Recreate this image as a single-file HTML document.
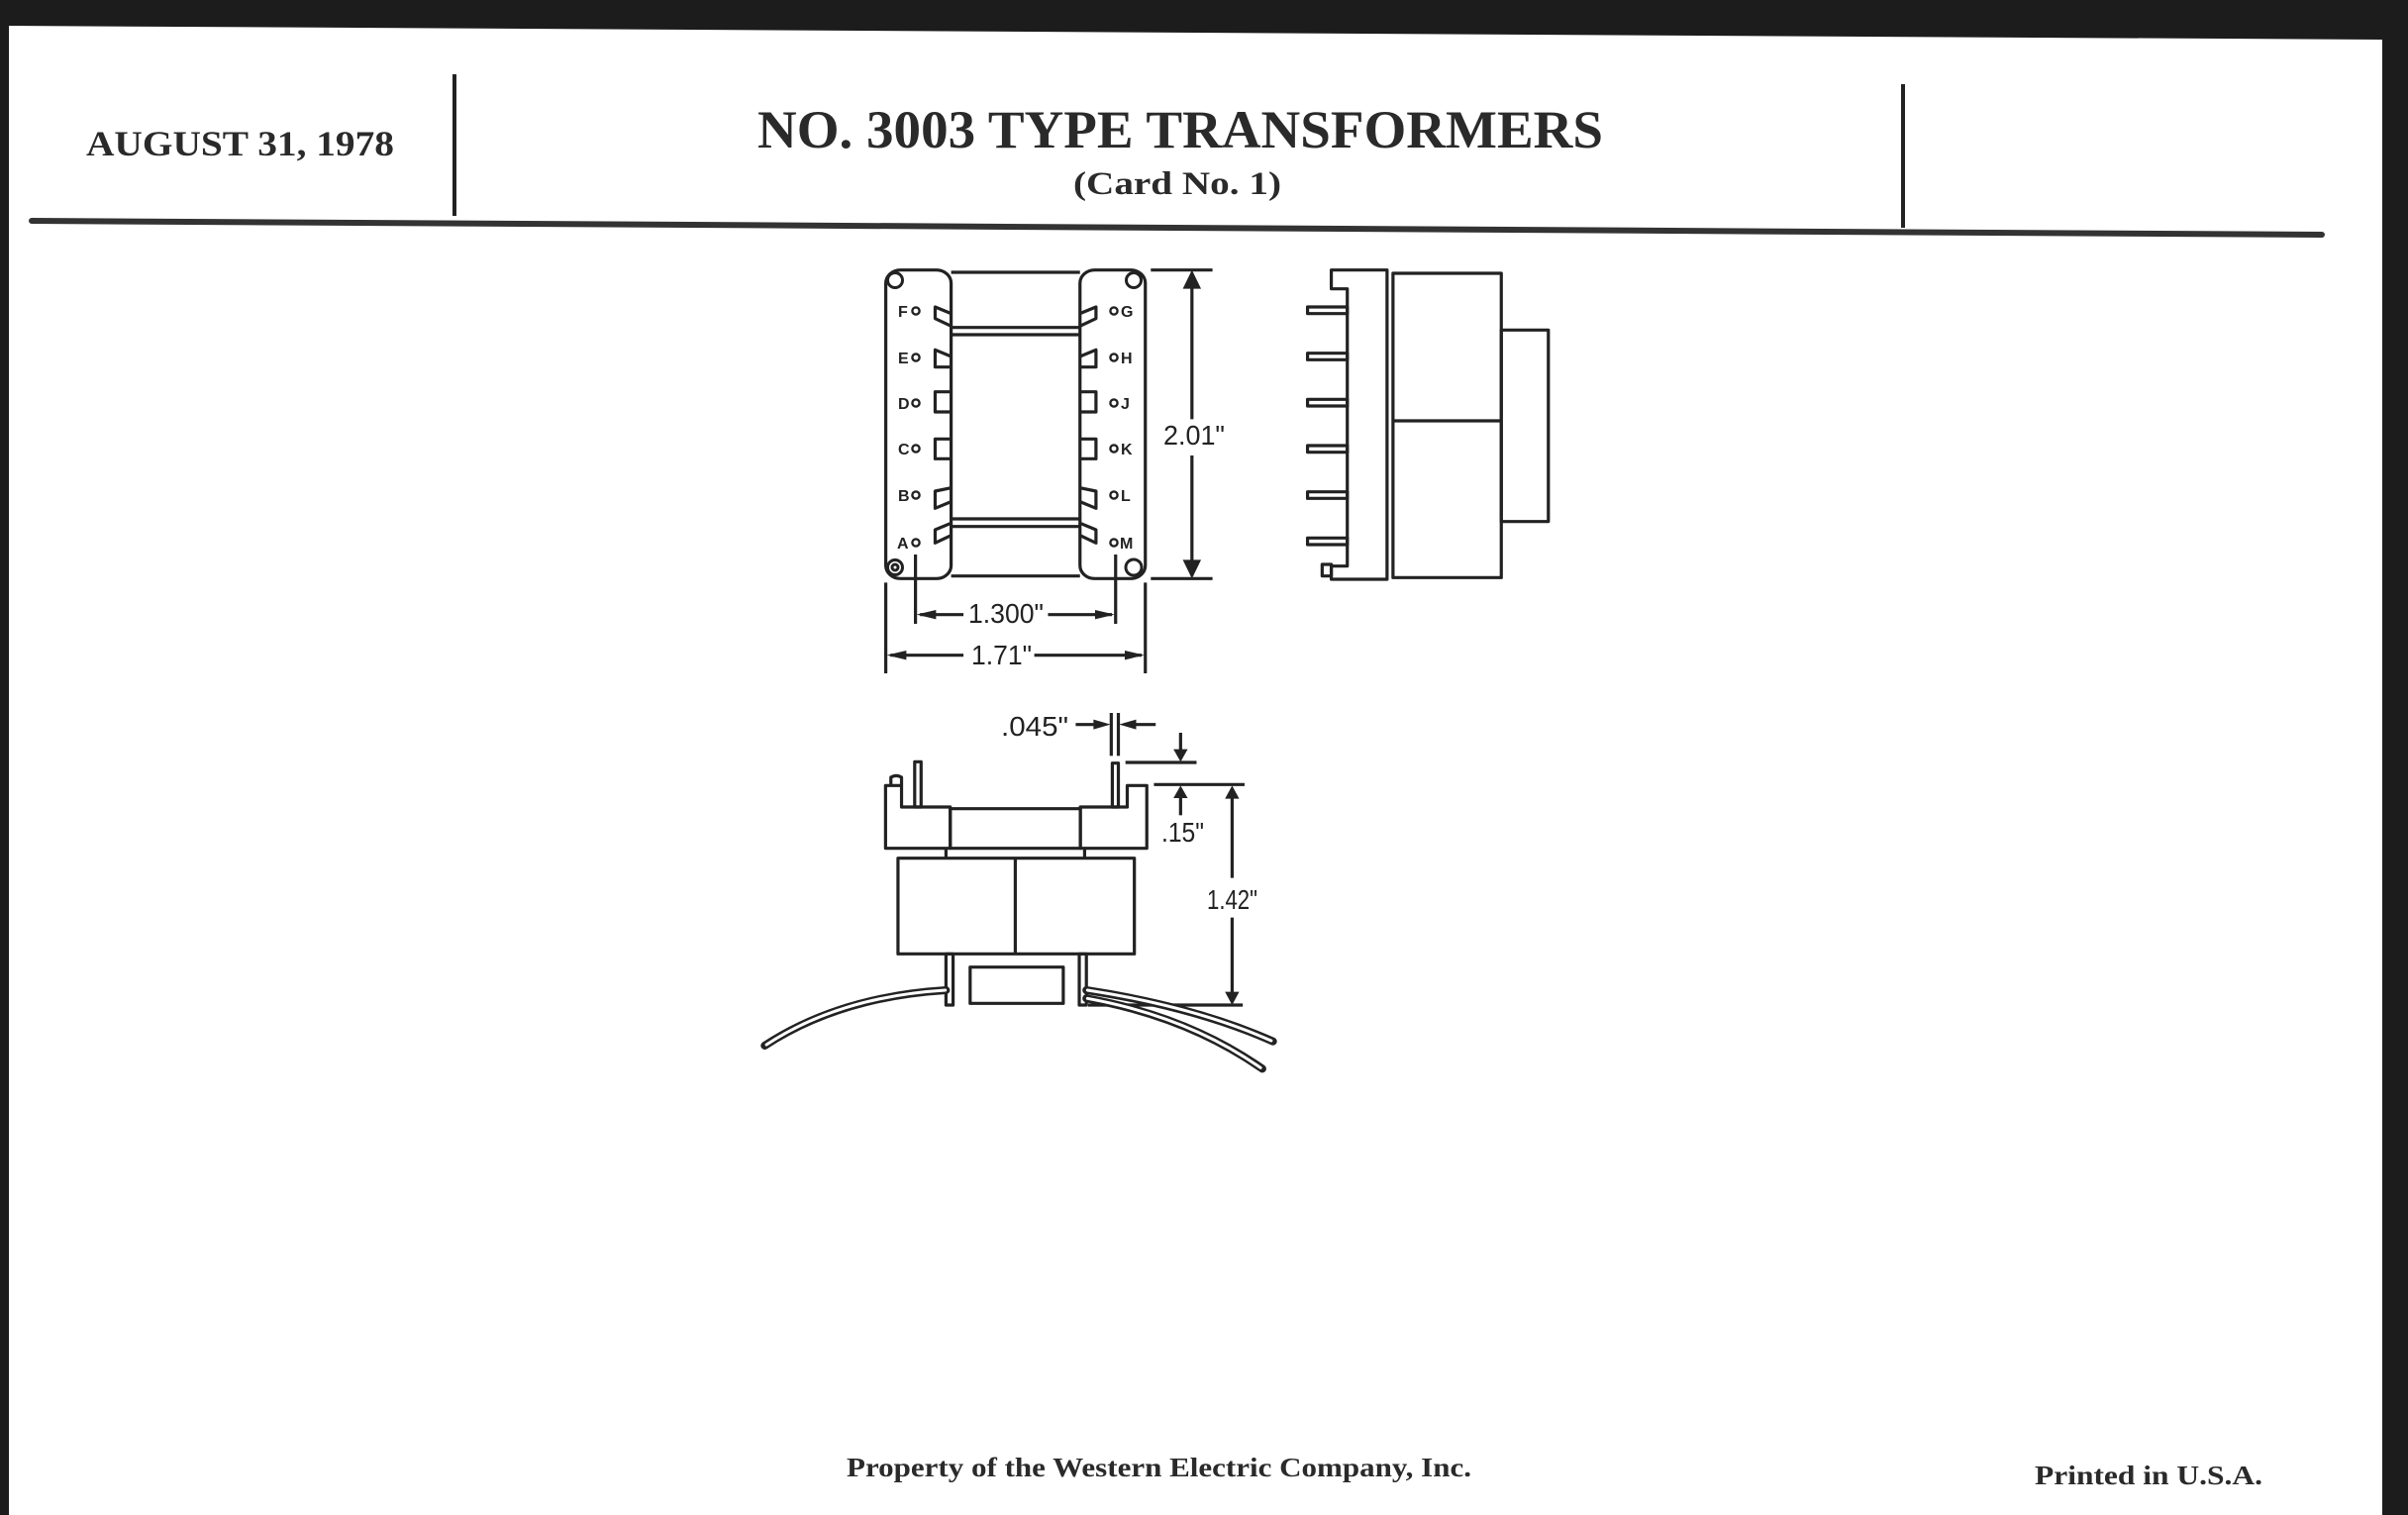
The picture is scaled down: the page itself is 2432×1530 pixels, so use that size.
<!DOCTYPE html>
<html><head><meta charset="utf-8"><style>
html,body{margin:0;padding:0;background:#fff;}
svg{display:block;}
.g *{vector-effect:non-scaling-stroke;}
</style></head><body>
<svg width="2432" height="1530" viewBox="0 0 2432 1530" xmlns="http://www.w3.org/2000/svg">
<rect x="0" y="0" width="2432" height="1530" fill="#fff"/>
<polygon points="0,0 2432,0 2432,1530 2406,1530 2406,40 9,26 9,1530 0,1530" fill="#1c1c1c"/>
<g font-family="Liberation Serif, serif" font-weight="bold" fill="#2a2a2a">
<text x="87" y="157" font-size="36" textLength="311" lengthAdjust="spacingAndGlyphs">AUGUST 31, 1978</text>
<text x="765" y="149" font-size="54" textLength="854" lengthAdjust="spacingAndGlyphs">NO. 3003 TYPE TRANSFORMERS</text>
<text x="1084" y="196" font-size="33" textLength="210" lengthAdjust="spacingAndGlyphs">(Card No. 1)</text>
<text x="855" y="1491" font-size="27" textLength="631" lengthAdjust="spacingAndGlyphs">Property of the Western Electric Company, Inc.</text>
<text x="2055" y="1499" font-size="27" textLength="230" lengthAdjust="spacingAndGlyphs">Printed in U.S.A.</text>
</g>
<line x1="459" y1="75" x2="459" y2="218" stroke="#222" stroke-width="4"/>
<line x1="1922" y1="85" x2="1922" y2="230" stroke="#222" stroke-width="4"/>
<line x1="32" y1="223" x2="2345" y2="237" stroke="#333" stroke-width="6" stroke-linecap="round"/>

<g class="g" transform="translate(860,250) scale(0.4615,0.33333)" fill="none" stroke="#222" stroke-width="3.2" stroke-linejoin="round">
  <rect x="75" y="68" width="143" height="935" rx="32" ry="40"/>
  <rect x="500" y="68" width="143" height="935" rx="32" ry="40"/>
  <line x1="218" y1="75" x2="500" y2="75"/>
  <line x1="218" y1="995" x2="500" y2="995"/>
  <line x1="218" y1="242" x2="500" y2="242"/>
  <line x1="218" y1="264" x2="500" y2="264"/>
  <line x1="218" y1="822" x2="500" y2="822"/>
  <line x1="218" y1="845" x2="500" y2="845"/>
  <path d="M218,200 L183,180 L183,215 L218,238"/>
  <path d="M218,330 L183,310 L183,362 L218,362"/>
  <path d="M218,437 H183 V498 H218"/>
  <path d="M218,580 H183 V640 H218"/>
  <path d="M218,728 L183,738 L183,790 L218,770"/>
  <path d="M218,835 L183,855 L183,895 L218,872"/>
  <path d="M500,200 L535,180 L535,215 L500,238"/>
  <path d="M500,330 L535,310 L535,362 L500,362"/>
  <path d="M500,437 H535 V498 H500"/>
  <path d="M500,580 H535 V640 H500"/>
  <path d="M500,728 L535,738 L535,790 L500,770"/>
  <path d="M500,835 L535,855 L535,895 L500,872"/>
  <line x1="655" y1="68" x2="790" y2="68"/>
  <line x1="655" y1="1003" x2="790" y2="1003"/>
  <line x1="745" y1="80" x2="745" y2="520"/>
  <line x1="745" y1="630" x2="745" y2="995"/>
  <line x1="140" y1="930" x2="140" y2="1140"/>
  <line x1="578" y1="930" x2="578" y2="1140"/>
  <line x1="150" y1="1112" x2="245" y2="1112"/>
  <line x1="430" y1="1112" x2="570" y2="1112"/>
  <line x1="75" y1="1015" x2="75" y2="1290"/>
  <line x1="643" y1="1015" x2="643" y2="1290"/>
  <line x1="85" y1="1235" x2="245" y2="1235"/>
  <line x1="400" y1="1235" x2="635" y2="1235"/>
  <path d="M1050,68 H1172 V1005 H1050 V965 H1085 V125 H1050 Z"/>
  <rect x="1030" y="960" width="20" height="35"/>
  <rect x="998" y="180" width="87" height="20"/>
  <rect x="998" y="320" width="87" height="20"/>
  <rect x="998" y="460" width="87" height="20"/>
  <rect x="998" y="600" width="87" height="20"/>
  <rect x="998" y="740" width="87" height="20"/>
  <rect x="998" y="880" width="87" height="20"/>
  <rect x="1185" y="78" width="237" height="922"/>
  <line x1="1185" y1="525" x2="1422" y2="525"/>
  <rect x="1422" y="250" width="103" height="580"/>
</g>
<g transform="translate(860,250) scale(0.4615,0.33333)" fill="#222">
  <polygon points="745,68 725,125 765,125"/>
  <polygon points="745,1003 725,946 765,946"/>
  <polygon points="142,1112 185,1098 185,1126"/>
  <polygon points="576,1112 533,1098 533,1126"/>
  <polygon points="77,1235 120,1221 120,1249"/>
  <polygon points="641,1235 598,1221 598,1249"/>
</g>
<g fill="none" stroke="#222" stroke-width="3">
  <circle cx="904" cy="283" r="7.5"/><circle cx="1145" cy="283" r="7.5"/>
  <circle cx="1145" cy="573" r="8"/><circle cx="904" cy="573" r="7.5"/><circle cx="904" cy="573" r="3"/>
  <g stroke-width="2.4">
  <circle cx="925" cy="314" r="3.6"/><circle cx="925" cy="361" r="3.6"/><circle cx="925" cy="407" r="3.6"/>
  <circle cx="925" cy="453" r="3.6"/><circle cx="925" cy="500" r="3.6"/><circle cx="925" cy="548" r="3.6"/>
  <circle cx="1125" cy="314" r="3.6"/><circle cx="1125" cy="361" r="3.6"/><circle cx="1125" cy="407" r="3.6"/>
  <circle cx="1125" cy="453" r="3.6"/><circle cx="1125" cy="500" r="3.6"/><circle cx="1125" cy="548" r="3.6"/>
  </g>
</g>
<g font-family="Liberation Sans, sans-serif" font-weight="bold" font-size="16" fill="#222">
  <text x="907" y="320">F</text><text x="907" y="367">E</text><text x="907" y="413">D</text>
  <text x="907" y="459">C</text><text x="907" y="506">B</text><text x="906" y="554">A</text>
  <text x="1132" y="320">G</text><text x="1132" y="367">H</text><text x="1132" y="413">J</text>
  <text x="1132" y="459">K</text><text x="1132" y="506">L</text><text x="1131" y="554">M</text>
</g>
<g font-family="Liberation Sans, sans-serif" font-size="28" fill="#222">
  <text x="1175" y="449" textLength="62" lengthAdjust="spacingAndGlyphs">2.01"</text>
  <text x="978" y="629" textLength="76" lengthAdjust="spacingAndGlyphs">1.300"</text>
  <text x="981" y="671" textLength="61" lengthAdjust="spacingAndGlyphs">1.71"</text>
  <text x="1011" y="743" textLength="68" lengthAdjust="spacingAndGlyphs">.045"</text>
  <text x="1173" y="850" textLength="43" lengthAdjust="spacingAndGlyphs">.15"</text>
  <text x="1219" y="918" textLength="51" lengthAdjust="spacingAndGlyphs">1.42"</text>
</g>

<g class="g" transform="translate(740,700) scale(0.359,0.33333)" fill="none" stroke="#222" stroke-width="3.2" stroke-linejoin="round">
  <line x1="1065" y1="60" x2="1065" y2="190"/>
  <line x1="1085" y1="60" x2="1085" y2="190"/>
  <line x1="965" y1="95" x2="1030" y2="95"/>
  <line x1="1120" y1="95" x2="1190" y2="95"/>
  <line x1="1105" y1="210" x2="1305" y2="210"/>
  <line x1="1260" y1="120" x2="1260" y2="180"/>
  <line x1="1185" y1="277" x2="1440" y2="277"/>
  <line x1="1260" y1="310" x2="1260" y2="370"/>
  <line x1="1405" y1="310" x2="1405" y2="560"/>
  <line x1="1405" y1="680" x2="1405" y2="915"/>
  <line x1="1000" y1="945" x2="1435" y2="945"/>
  <rect x="512" y="208" width="18" height="137"/>
  <rect x="1068" y="212" width="17" height="133"/>
  <path d="M475,280 V345 H612 V470 H430 V280 Z"/>
  <path d="M445,280 V255 Q460,245 475,255 V280"/>
  <rect x="612" y="350" width="366" height="120"/>
  <path d="M978,345 H1110 V280 H1165 V470 H978 Z"/>
  <line x1="600" y1="470" x2="600" y2="500"/>
  <line x1="990" y1="470" x2="990" y2="500"/>
  <rect x="465" y="500" width="665" height="290"/>
  <line x1="795" y1="500" x2="795" y2="790"/>
  <rect x="600" y="790" width="20" height="155"/>
  <rect x="975" y="790" width="20" height="155"/>
  <rect x="668" y="830" width="262" height="110"/>
  <g stroke-linecap="round" stroke-width="8">
    <path d="M600,900 Q300,920 90,1068"/>
    <path d="M995,900 Q1300,950 1520,1055"/>
    <path d="M995,925 Q1280,980 1490,1138"/>
  </g>
  <g stroke="#fff" stroke-width="3" stroke-linecap="round">
    <path d="M598,900 Q300,920 95,1065"/>
    <path d="M998,900 Q1300,950 1515,1053"/>
    <path d="M998,925 Q1280,980 1485,1135"/>
  </g>
</g>
<g transform="translate(740,700) scale(0.359,0.33333)" fill="#222">
  <polygon points="1063,95 1015,80 1015,110"/>
  <polygon points="1087,95 1135,80 1135,110"/>
  <polygon points="1260,208 1240,170 1280,170"/>
  <polygon points="1260,280 1240,318 1280,318"/>
  <polygon points="1405,280 1385,320 1425,320"/>
  <polygon points="1405,945 1385,905 1425,905"/>
</g>
</svg>
</body></html>
